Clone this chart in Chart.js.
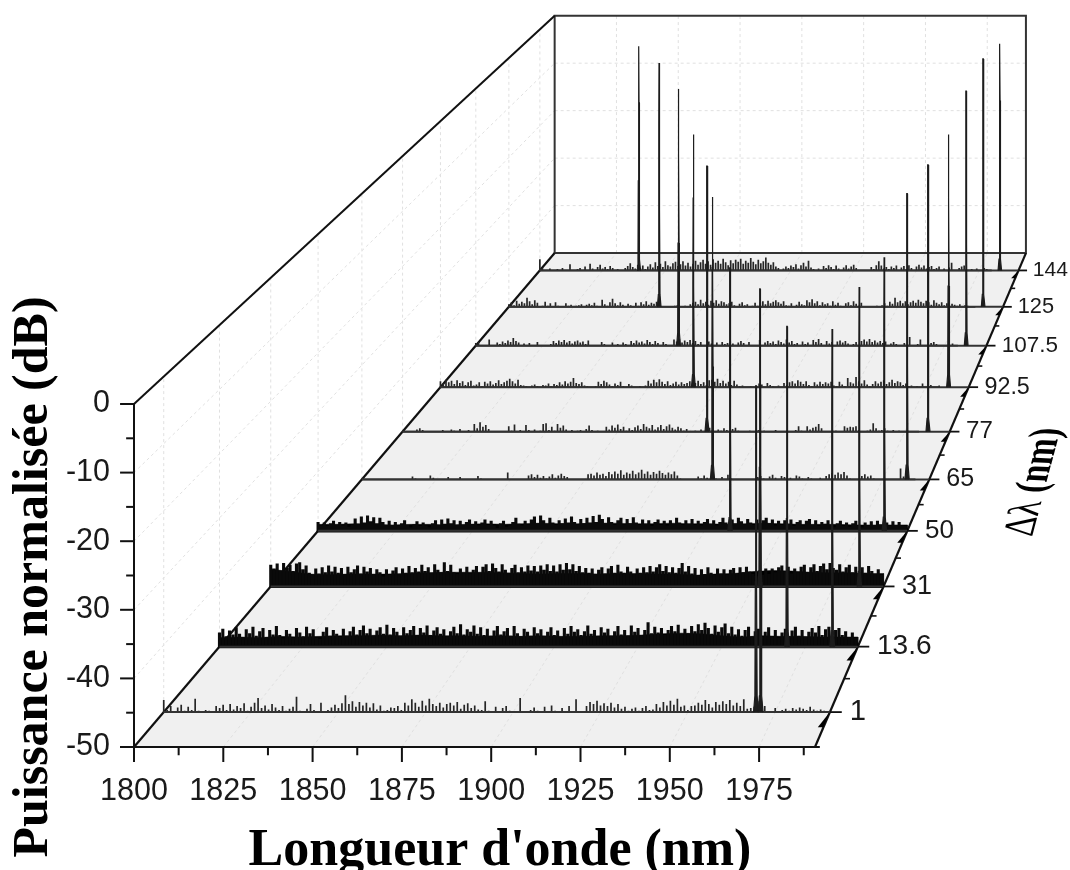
<!DOCTYPE html>
<html lang="fr">
<head>
<meta charset="utf-8">
<title>Puissance normalisée</title>
<script src="https://cdn.jsdelivr.net/npm/chart.js"></script>
<style>
  html, body { margin: 0; padding: 0; background: #fff; }
  canvas { display: block; }
</style>
</head>
<body>
<canvas id="chart" width="1070" height="870"></canvas>
<script>
// Valeurs
const deltaLabels = ['1', '13.6', '31', '50', '65', '77', '92.5', '107.5', '125', '144'];
const leftPeaks = [1969.5, 1969.5, 1952.2, 1933.3, 1917.8, 1906.1, 1891.3, 1875.7, 1858, 1839.4];
const rightPeaks = [1970.8, 1983, 1983.1, 1983.2, 1983.2, 1983.1, 1983.4, 1983.1, 1983, 1983.2];
const leftPeakTops = [-1.4, -0.2, -1.8, -5.7, -0.6, -1.8, -2.5, -0.1, -1, -3.5];
const rightPeakTops = [-1.4, -0.6, -1.5, -3.9, 0, -1.6, -2.5, -0.5, -0.2, -3];

const xTicks = [1800, 1825, 1850, 1875, 1900, 1925, 1950, 1975];
const xMinorTicks = [1812.5, 1837.5, 1862.5, 1887.5, 1912.5, 1937.5, 1962.5, 1987.5];
const yTicks = [-50, -40, -30, -20, -10, 0];
const yMinorTicks = [-45, -35, -25, -15, -5];

// Bruit au-dessus du plancher (dB), un point par nm à partir de 1800 nm
const noise1 = [
  1.8,0.3,0.9,0,0.7,1.1,0.2,0.8,0.3,2.0, 0.2,0,0.3,0.2,0,0.9,0.6,1.1,0.3,1.2,
  0.4,0.9,0.6,1.3,0.2,0.8,1.4,2.1,0.6,1.0, 0.4,1.2,0.7,0.3,0.9,0.2,0.5,0.8,2.3,0.2,
  0,0.5,1.2,0.3,0,1.4,0,0.3,0.7,1.1, 0.6,1.3,2.5,1.2,1.6,0.8,1.5,1.0,1.4,0.7,
  1.3,0.4,1.0,0.2,0.3,0.7,0.6,0.9,0.3,1.4, 1.0,1.9,1.4,0.8,1.7,1.0,2.0,1.2,0.9,1.4,
  0.7,1.2,1.4,1.0,1.5,0.5,1.1,1.3,0.6,1.0, 0.4,0.3,1.6,0.2,0.1,0.8,0,0.6,0.9,0.2,
  0,0,2.1,0.1,0,0.3,0.7,0.2,0,0.8, 0.1,1.0,0.2,0,0.6,0.1,0.9,0,1.9,0.1,
  0,0.9,1.5,1.2,1.7,1.0,1.3,0.9,1.4,0.7, 1.2,0.5,0.8,0.2,0.5,0.7,0.2,0.6,0.9,0.3,
  0.4,1.2,0.7,1.5,1.0,1.7,1.1,2.0,0.8,1.0, 0.3,0.9,1.0,1.4,1.1,1.8,1.2,0.7,1.5,1.1,
  1.6,1.2,1.8,1.0,1.4,0.9,1.9,0.5,0.6,0.8, 1.6,1.6,0.9,0.1,0,0.6,0.1,0.3,0.5,0.2,
  0.6,0.4,0.7,0.5,0.3,0.8,0.4,0.2,0.4,0.2, 0.1
];
const noise65 = [
  0,0,0,0,0,0,0,0,0,0, 0,0,0,0,0,0,0,0.5,0.2,0,
  0,0,0,0.7,0.3,0,0,0,0,0.4, 0,0,0,0.4,0,0,0,0,0,0.6,
  0.2,0,0,0,0,0,0,0,0,1.2, 0,0,0,0,0,0,0.7,0.9,0.4,0.8,
  0.3,0.6,0.2,0.5,0.9,0.3,0.7,1.0,0.6,0.4, 0,0,0,0,0,0,0.9,1.0,0.7,1.2,
  0.8,1.0,0.6,1.3,0.9,1.4,1.0,1.6,0.8,1.2, 1.0,1.5,0.9,1.2,1.7,1.0,1.4,0.8,1.3,1.0,
  1.5,1.1,0.8,1.2,0.9,1.4,0.7,0.2,0,0, 0.1,0,0,0.5,0.2,0.7,0.3,0,0.6,0.2,
  0.1,0.4,0,0.8,0.2,0,0,0,0,0.1, 0,0,0,0.4,0.6,0.2,0,0.5,0.8,0.3,
  0,0.6,0.4,0.1,0.3,0,0.7,0.5,0.2,0,0.4,0.2,0,0.1, 0.3,0,0.6,0.9,1.1,0.8,
  1.2,0.9,1.3,0.7,0.2,0,0,0,0.6,0.9,0.5,0.7,0.2,0,0,0,0,0,0,0,
  0,1.9,0.5,0,0,0,0
];
const noise77 = [
  0,0,0,0,0,0.4,0.6,0.3,0,0, 0,0,0,0,0.3,0.1,0,0.4,0.2,0,
  0.5,0.1,0,0.3,0.1,1.4,0.6,1.7,0.9,1.2, 0.5,0,0,0,0,0,0,1.0,0.2,1.3,
  0.1,0.3,0,1.2,0.3,0.1,0.4,0,0.2,1.4, 1.5,0.3,0.9,0.2,1.4,0.7,1.1,0.4,0.1,0.3,
  0,0.2,0.3,0,0.5,1.1,0.3,0,0.2,0, 0.1,0.9,0.4,1.1,0.7,1.3,0.5,0.9,0.2,0.6,
  0.3,0.8,1.1,0.5,1.4,0.9,0.6,1.2,0.4,0.8, 1.2,0.5,1.0,1.3,0.7,0.4,0.9,0.6,0.2,0.5,
  0.1,0,0.2,0,0.4,0.1,0.5,0.7,0.3,0.1, 0.4,0.2,0.6,0.3,0.1,0.5,0.7,0.2,0.1,0,
  0,0.2,0.1,0,0.3,0,0.2,0.1,0,0, 0.3,0.1,0,0,0.2,0.1,0,0.3,1.0,0.2,
  0,1.0,0.4,0.7,0.9,1.4,0.6,0.1,0,0, 0,0.2,0,0,1.0,0.7,0.9,0.8,1.0,0.3,
  0.1,0,0.2,0.4,1.5,0.6,0.2,0.3,0.6,0.2, 0.1,0.3,0,0.2,0.1,0,0.2,0,0.1,0,
  0
];
const noise92_5 = [
  1.1,0.7,1.4,0.9,1.2,0.6,1.3,0.8,1.1,0.4, 0.9,1.2,0.3,0.5,0.9,0.2,1.0,0.7,1.1,0.5,
  0.8,1.3,0.6,0.9,1.2,1.6,1.1,0.7,1.4,0.4, 0.3,0.2,0.1,0.3,0.5,0.2,0.1,0.4,0.3,0.7,
  0.2,0.6,0.4,0.9,0.5,1.1,0.7,1.0,1.7,0.8, 0.6,0.9,0.3,0.2,0.1,0,0.2,1.0,0.6,1.2,
  0.9,0.5,0.2,0.7,0.4,1.0,0.2,0.1,0.6,0.3, 0.1,0,0.2,0,0.3,1.2,0.7,1.4,0.9,1.5,
  1.0,0.6,1.1,0.4,0.7,1.0,0.5,0.9,0.6,0.8, 1.1,0.5,0.8,1.2,0.6,0.9,0.4,1.3,1.4,1.0,
  1.6,0.8,1.2,0.7,1.0,0.4,1.2,0.5,0.2,0.3, 0,0.1,0.2,0,0.3,0.7,0.5,0.1,0.8,0.4,
  0.2,0,0.3,0.1,0.8,0.4,0.9,1.1,0.7,1.3, 1.0,0.6,1.1,0.4,0.2,0.9,0.5,1.0,0.6,0.9,
  0.7,1.0,0.3,0.2,1.0,0.5,0.2,1.7,0.9,0.7, 1.9,1.1,0.7,1.3,0.5,0.2,0.6,1.1,0.7,1.0,
  1.3,0.6,0.9,1.4,0.8,1.1,0.9,0.4,0.7,0.2, 0.3,0.1,0.2,0,0.7,0.1,0,0.4,0,0.1,
  0.3
];
const noise107_5 = [
  0.5,0.7,0.1,0,0,1.2,0.2,0.1,0.6,0.3, 0.8,0.5,1.0,0.7,1.5,0.9,0.6,0.1,0.4,0,
  0.5,0.1,0.2,0.7,0.1,0,0,0.1,0.3,0.9, 0.5,1.0,0.7,1.1,0.6,0.9,0.4,0.8,1.0,0.6,
  0.8,0.3,1.0,0.2,0,0,0.1,0.7,0.3,0,0.2,0.6,0,0.3,0.1,0.6,0.3,0.1,0.9,0.5,
  1.0,0.6,0.8,0.4,1.1,0.7,0.3,0.9,0.5,0.1, 0.7,0.3,0,0.2,1.2,0.8,1.2,0.6,1.0,0.7,
  1.1,0.5,0.9,0.3,0.7,0.2,0.1,0.8,0.4,0,0.6,0.2,0.7,0.3,0.5,0.8,0.4,0.1,0.6,0.9,
  0.5,0.2,0.7,0.1,0,0.2,1.1,0,0.6,0.9, 0.5,0.8,0.3,1.0,0.7,0.4,1.2,0.6,0.9,0.3,
  0.5,0.1,0.8,0.3,0.6,0.2,1.1,0.7,1.3,0.5, 0.2,0.9,0.4,0.7,0.2,0.8,1.0,0.6,0.9,0.4,
  0.1,0.3,0.7,0.2,0.9,1.2,0.8,1.3,0.7,1.0, 0.6,0.9,0.5,0.8,0.2,0.4,0.7,0.3,0.1,0.2,
  0.5,0.1,1.7,0.2,0,0.3,1.2,0.1,0,0.2, 0.5,0.7,0.3,0,0,0,0,0.2,0.4,0.1,
  0
];
const noise125 = [
  0.5,0.9,0.3,1.2,0.6,1.0,0.7,1.8,1.1,0.5, 1.3,0.8,0.1,0.2,1.0,0.2,0.7,0.1,0.9,0.2,
  0,0.1,0.7,0.2,0.4,0,0.2,0.3,0.5,0.1, 0.4,0.6,0.3,0.8,0.2,0.1,1.4,0.5,0.2,0.9,
  1.6,0.7,0.3,0.9,0.4,0.1,0.6,0.3,0.1,0.8, 0.2,0.9,0.5,1.1,0.4,0.8,0.6,1.0,0.3,0,
  0,0,0.1,0,0.2,0.3,0,0.1,0.2,0, 0.5,0.8,1.0,0.5,1.4,0.7,1.0,0.4,1.2,0.8,
  1.3,0.6,1.1,0.9,0.5,0.7,1.0,0.3,0.1,0.6, 0.9,0.3,0.5,0.1,0.2,0.8,0.2,0.9,1.1,0.5,
  1.2,0.7,1.0,1.3,0.9,0.6,1.1,0.3,0.2,0.7, 0.1,0.4,1.0,0.5,0.3,1.3,0.9,1.5,0.7,1.1,
  0.3,0.9,0.5,0.7,0.2,1.1,0.4,0.8,0.2,0.1, 0.7,0.9,0.3,1.1,0.6,0.2,0.8,0.1,0,0.1,
  0,0,0.2,0,0.3,0.7,0.2,1.0,0.6,1.8, 0.9,1.2,0.7,1.1,0.5,0.9,1.2,0.8,1.4,1.0,
  0.7,1.2,0.9,0.4,1.3,0.8,0.5,0.9,0.3,0.7, 0.2,0.6,0.4,0.2,0.5,0.1,0.3,0.2,0,0.1,
  0
];
const noise144 = [
  2.3,0.5,0.2,0,0.4,0.1,0,0.3,0.1,0.5, 0,0,1.3,0.1,0,0.3,0.5,0,0.8,0.2,
  1.4,0.4,0.1,0.7,1.2,0.4,0.7,0.3,0.9,0.5, 0.2,0.3,0.1,0,0.5,0.9,1.5,0.7,0.4,1.2,
  0.5,1.0,0.3,0.8,1.3,0.6,1.7,0.9,1.4,0.7, 1.9,1.1,0.8,1.5,1.8,0.9,1.3,1.9,1.0,1.6,
  0.8,1.4,2.0,1.2,1.7,2.2,1.4,1.9,1.2,2.3, 1.6,2.0,1.4,2.4,1.7,1.1,2.1,1.5,2.2,1.8,
  2.4,1.4,2.0,1.6,2.6,1.8,1.3,2.2,1.5,1.9, 2.7,1.6,1.2,1.7,0.8,0.5,0.2,0.4,0.8,0.5,
  1.0,0.7,1.3,0.4,1.1,1.6,0.8,2.0,0.6,0.3, 0.2,0.4,0.2,0.9,0.5,1.1,0.7,0.3,1.0,0.4,
  0.1,0.6,1.1,0.4,0.8,1.2,0.5,0.2,0.1,0, 0.2,0,0.7,0.3,1.1,1.9,1.0,0.4,0.7,0.3,
  0.8,0.5,1.0,0.2,0.6,0.9,0.3,1.1,0.5,0.2, 0.8,1.2,0.6,1.0,0.4,0.7,0.9,0.3,0.5,0.8,
  0.2,0.4,0.1,0.6,1.6,0.2,0.1,0.5,0.8,1.0, 0.2,0,0.3,0,0.4,0.1,0.2,0.5,0.3,0,
  0
];

// Rangées denses : même échantillonnage, plus une bande pleine tous les 6 nm
const noise13_6 = [
  2.2,2.8,1.6,2.5,1.9,3.0,2.0,1.5,2.7,2.1, 3.1,1.7,2.4,2.9,1.5,2.6,1.9,3.2,1.8,1.3,
  2.6,2.0,1.4,2.9,2.2,1.6,3.1,2.1,2.7,1.4, 1.2,2.3,3.0,1.7,2.6,2.0,1.5,2.8,1.7,2.4,
  3.1,1.9,2.6,3.3,2.1,2.8,1.7,2.5,3.0,2.0, 3.4,1.9,2.9,2.3,1.7,3.0,2.1,2.6,3.2,1.8,
  2.9,2.2,3.3,1.8,2.5,3.0,2.0,2.7,1.6,2.4, 3.1,2.1,3.5,1.9,2.7,2.3,3.3,2.0,3.0,1.8,
  2.8,1.7,2.5,3.2,1.9,2.4,2.9,1.7,3.2,2.1, 1.6,2.8,2.3,1.7,3.0,2.1,2.7,1.6,2.3,3.0,
  1.8,2.5,1.5,2.9,2.0,3.2,2.3,2.7,1.8,2.4, 3.3,2.0,2.6,1.6,3.0,2.2,2.8,1.7,2.4,3.2,
  1.9,2.6,1.7,3.3,2.3,2.9,1.8,2.6,3.8,2.1, 3.1,2.2,2.9,1.8,2.6,3.2,2.4,3.4,2.0,2.8,
  2.1,3.2,2.4,3.5,2.6,3.7,2.9,2.0,3.3,2.3, 3.0,3.6,2.1,3.1,1.9,2.7,1.7,2.6,3.1,1.6,
  2.4,2.8,1.5,2.3,3.0,1.6,2.6,1.4,2.2,2.8, 1.6,2.5,3.1,1.7,2.6,1.5,2.3,2.9,2.2,3.2,
  1.8,2.7,3.1,1.7,2.6,2.9,1.8,2.4,1.5,2.2, 1.4
];
const band13_6 = [1.4,1.5,1.4,1.6,1.5,1.6,1.7,1.7,1.8,1.7,1.8,1.7,1.7,1.6,1.7,1.6,1.7,1.6,1.6,1.7,1.7,1.8,2.0,2.1,2.0,1.7,1.5,1.7,1.6,1.6,1.5,1.5];
const noise31 = [
  3.5,2.9,3.7,2.6,3.8,3.0,3.5,2.5,3.7,3.9, 2.8,3.4,2.2,1.9,2.9,2.1,3.1,2.3,3.4,2.4,
  3.2,2.2,3.0,2.0,3.2,2.3,2.8,3.4,2.1,3.2, 2.4,3.0,2.0,2.8,2.3,1.6,2.8,1.9,2.6,3.1,
  2.0,2.9,2.2,3.3,2.3,3.0,2.4,3.5,2.5,3.1, 2.2,3.6,2.7,2.3,3.9,2.5,3.5,2.3,2.0,2.9,
  2.2,3.2,2.1,2.7,3.3,2.2,3.2,3.6,2.5,3.7, 3.0,2.4,3.6,2.7,2.2,3.0,3.5,2.3,3.1,2.4,
  3.4,2.6,3.3,2.4,3.4,2.7,3.6,2.5,3.4,2.4, 3.6,2.7,3.8,2.8,3.6,2.5,3.3,2.3,3.0,2.2,
  2.9,2.0,2.7,3.1,2.1,2.9,3.3,2.2,3.5,2.4, 2.2,3.2,2.4,2.0,2.9,2.2,3.1,2.3,3.3,2.4,
  3.1,3.6,2.5,3.3,2.3,3.1,2.2,3.0,3.8,2.4, 3.3,2.1,3.0,1.8,2.8,2.0,3.1,2.2,1.9,2.9,
  2.1,2.8,1.9,2.7,3.0,2.1,3.1,2.3,3.2,2.4, 2.0,1.7,2.6,1.9,2.9,2.0,2.9,2.3,3.1,3.4,
  2.4,3.2,2.1,2.9,2.3,3.2,3.5,2.3,3.1,3.6, 2.5,3.3,3.7,2.8,3.8,3.0,2.7,3.6,2.4,3.1,
  3.5,2.3,3.2,2.1,3.1,2.2,3.3,2.5,2.0,2.8, 1.9
];
const band31 = [2.8,2.4,2.0,1.9,2.0,2.0,2.0,2.1,2.2,2.3,2.3,2.3,2.2,2.1,2.0,2.1,2.1,2.0,2.1,2.1,2.0,2.0,1.8,2.0,2.1,2.4,2.6,2.5,2.3,2.2,2.2,2.1];
const noise50 = [
  1.5,0.9,1.4,0.8,1.3,1.7,1.0,1.5,0.9,1.4, 0.7,1.1,2.1,1.2,2.4,1.4,2.6,1.6,2.3,1.3,
  2.2,1.5,1.0,1.7,1.0,1.5,0.9,1.3,1.8,1.0, 0.6,1.1,1.6,0.8,1.4,0.9,0.6,1.3,1.8,1.0,
  1.9,1.2,2.1,1.3,1.8,1.0,1.7,1.0,1.5,1.9, 1.1,1.6,0.9,1.4,1.9,1.0,1.7,0.9,0.5,1.3,
  1.7,0.7,0.9,1.5,2.2,1.2,0.9,1.7,1.1,1.9, 2.4,1.3,2.6,1.8,1.2,2.2,1.4,1.0,1.8,1.3,
  2.1,1.4,2.4,1.5,1.1,2.0,1.3,2.2,1.4,2.5, 1.5,2.7,2.0,1.3,2.3,1.5,1.0,1.8,2.2,1.1,
  2.0,1.3,2.3,1.4,1.0,1.9,1.2,1.8,0.8,1.5, 1.9,1.0,1.7,0.9,1.8,1.2,2.2,1.4,1.0,1.8,
  1.2,2.0,1.0,1.7,0.9,1.5,2.0,1.2,1.8,0.9, 1.5,2.2,1.4,1.0,1.9,1.3,2.2,1.6,1.1,2.0,
  1.4,1.0,1.9,1.2,1.8,2.2,1.3,1.9,0.9,1.7, 1.0,1.8,1.2,1.9,0.8,1.5,1.8,0.9,1.7,2.0,
  1.0,1.8,0.8,1.5,1.2,1.8,1.0,0.6,1.3,1.7, 0.8,1.4,0.7,1.3,1.7,0.8,0.6,1.4,0.9,1.6,
  1.0,1.7,1.1,0.7,1.4,0.9,1.6,1.0,1.5,0.9, 0.8
];
const band50 = [1.1,1.1,1.2,1.1,1.0,1.1,1.1,1.0,1.1,1.2,1.1,1.2,1.3,1.2,1.2,1.3,1.3,1.2,1.2,1.3,1.2,1.2,1.1,1.2,1.3,1.2,1.1,1.1,1.1,1.0,1.0,1.0];

const rowNoise = [noise1, noise13_6, noise31, noise50, noise65, noise77, noise92_5, noise107_5, noise125, noise144];
const rowBands = [null, band13_6, band31, band50, null, null, null, null, null, null];

// Perspective : les plans reculent vers un point de fuite (unités lambda / dB)
const PX_PER_NM = 3.572;
const PX_PER_DB = 6.86;
const LAMBDA_MIN = 1800;
const LAMBDA_MAX = 1990.65;
const DB_MIN = -50;
const DB_MAX = 0;
const VANISH_LAMBDA = 2182.4;
const VANISH_DB = 183.8;
const DEPTH_K = 0.445;

function depthScale(t) {
  return 1 / (1 + DEPTH_K * t);
}

function project(lambda, dB, t) {
  const s = depthScale(t);
  return { x: VANISH_LAMBDA + (lambda - VANISH_LAMBDA) * s, y: VANISH_DB + (dB - VANISH_DB) * s };
}

function rowDepth(i) {
  return (i + 0.5) / deltaLabels.length;
}

const layers = [];

function addLine(points, color, width, dash) {
  layers.push({
    data: points, showLine: true, pointRadius: 0, borderColor: color, borderWidth: width,
    borderDash: dash || [], tension: 0, fill: false, borderJoinStyle: 'miter'
  });
}

function addShape(points, color, borderWidth) {
  layers.push({
    data: points, showLine: true, pointRadius: 0, borderColor: color, borderWidth: borderWidth || 0,
    backgroundColor: color, tension: 0, fill: 'shape'
  });
}

// Plancher gris
addShape([
  project(LAMBDA_MIN, DB_MIN, 0), project(LAMBDA_MAX, DB_MIN, 0),
  project(LAMBDA_MAX, DB_MIN, 1), project(LAMBDA_MIN, DB_MIN, 1), project(LAMBDA_MIN, DB_MIN, 0)
], '#f0f0f0');

// Grille pointillée
const GRID = '#e0e0e0';
const GRID_DASH = [3, 3];
xTicks.slice(1).forEach(v => {
  addLine([project(v, DB_MIN, 0), project(v, DB_MIN, 1)], GRID, 1, GRID_DASH);
  addLine([project(v, DB_MIN, 1), project(v, DB_MAX, 1)], GRID, 1, GRID_DASH);
});
yTicks.slice(1, -1).forEach(v => {
  addLine([project(LAMBDA_MIN, v, 0), project(LAMBDA_MIN, v, 1)], GRID, 1, GRID_DASH);
  addLine([project(LAMBDA_MIN, v, 1), project(LAMBDA_MAX, v, 1)], GRID, 1, GRID_DASH);
});
deltaLabels.forEach((label, i) => {
  addLine([project(LAMBDA_MIN, DB_MIN, rowDepth(i)), project(LAMBDA_MIN, DB_MAX, rowDepth(i))], GRID, 1, GRID_DASH);
});

// Cadre du fond et arêtes
const FRAME = '#333333';
addLine([project(LAMBDA_MIN, DB_MIN, 1), project(LAMBDA_MIN, DB_MAX, 1), project(LAMBDA_MAX, DB_MAX, 1), project(LAMBDA_MAX, DB_MIN, 1), project(LAMBDA_MIN, DB_MIN, 1)], FRAME, 2);
addLine([project(LAMBDA_MIN, DB_MAX, 0), project(LAMBDA_MIN, DB_MAX, 1)], '#111111', 2);
addLine([project(LAMBDA_MIN, DB_MIN, 0), project(LAMBDA_MIN, DB_MIN, 1)], '#111111', 2.2);
addLine([project(LAMBDA_MAX, DB_MIN, 0), project(LAMBDA_MAX, DB_MIN, 1)], '#111111', 2.2);

// Profil d'un pic : [décalage nm à la base, part de la hauteur]
function peakShape(lambda, top, t) {
  const lift = top - DB_MIN;
  const profile = [[0.7, 0], [0.32, 0.05], [0.2, 0.4], [0.1, 0.75], [0.07, 1]];
  const pts = [];
  profile.forEach(p => pts.push(project(lambda - p[0], DB_MIN + lift * p[1], t)));
  profile.slice().reverse().forEach(p => pts.push(project(lambda + p[0], DB_MIN + lift * p[1], t)));
  return pts;
}

// Rangées, du fond vers l'avant
for (let i = deltaLabels.length - 1; i >= 0; i--) {
  const t = rowDepth(i);

  if (rowBands[i]) {
    const band = rowBands[i].map((h, k) => project(LAMBDA_MIN + k * 6, DB_MIN + h, t));
    band.unshift(project(LAMBDA_MIN, DB_MIN, t));
    band.push(project(LAMBDA_MAX, DB_MIN + rowBands[i][rowBands[i].length - 1], t));
    band.push(project(LAMBDA_MAX, DB_MIN, t));
    band.push(project(LAMBDA_MIN, DB_MIN, t));
    addShape(band, '#000000', 0.5);
  }

  const stems = [];
  rowNoise[i].forEach((h, k) => {
    const lambda = Math.min(LAMBDA_MIN + k, LAMBDA_MAX);
    stems.push(project(lambda, DB_MIN, t), project(lambda, DB_MIN + h, t), project(lambda, DB_MIN, t));
  });
  addLine(stems, rowBands[i] ? '#0a0a0a' : '#262626', rowBands[i] ? 3.1 : 1.7);
  addLine([project(LAMBDA_MIN, DB_MIN, t), project(LAMBDA_MAX, DB_MIN, t)], '#333333', 2);

  addShape(peakShape(leftPeaks[i], leftPeakTops[i], t), '#1c1c1c', 1.2);
  addShape(peakShape(rightPeaks[i], rightPeakTops[i], t), '#1c1c1c', 1.2);
}

// Axes : lignes et graduations
const AXIS = '#111111';
const X_MAJOR = 2.2, X_MINOR = 1.2, Y_MAJOR = 3.9, Y_MINOR = 2.2;
addLine([{ x: LAMBDA_MIN, y: DB_MAX }, { x: LAMBDA_MIN, y: DB_MIN }], AXIS, 2);
addLine([{ x: LAMBDA_MIN - Y_MAJOR, y: DB_MIN }, { x: 1992, y: DB_MIN }], AXIS, 2);
xTicks.forEach(v => addLine([{ x: v, y: DB_MIN }, { x: v, y: DB_MIN - X_MAJOR }], AXIS, 2));
xMinorTicks.forEach(v => addLine([{ x: v, y: DB_MIN }, { x: v, y: DB_MIN - X_MINOR }], AXIS, 2));
yTicks.forEach(v => addLine([{ x: LAMBDA_MIN, y: v }, { x: LAMBDA_MIN - Y_MAJOR, y: v }], AXIS, 2));
yMinorTicks.forEach(v => addLine([{ x: LAMBDA_MIN, y: v }, { x: LAMBDA_MIN - Y_MINOR, y: v }], AXIS, 2));

deltaLabels.forEach((label, i) => {
  const t = rowDepth(i);
  addLine([project(LAMBDA_MAX, DB_MIN, t), project(LAMBDA_MAX + 3.4, DB_MIN, t)], AXIS, 1.8);
  addShape([
    project(LAMBDA_MAX, DB_MIN, t), project(LAMBDA_MAX, DB_MIN, t - 0.022),
    project(LAMBDA_MAX - 1.6, DB_MIN, t - 0.022), project(LAMBDA_MAX, DB_MIN, t)
  ], '#000000');
  if (i > 0) {
    const tm = i / deltaLabels.length;
    addLine([project(LAMBDA_MAX, DB_MIN, tm), project(LAMBDA_MAX + 1.7, DB_MIN, tm)], AXIS, 1.6);
  }
});

// Textes de l'axe oblique et titres
const textPlugin = {
  id: 'textes',
  afterDraw(chart) {
    const { ctx, scales } = chart;
    ctx.save();
    ctx.fillStyle = '#1a1a1a';
    ctx.textAlign = 'left';
    ctx.textBaseline = 'middle';
    deltaLabels.forEach((label, i) => {
      const t = rowDepth(i);
      const p = project(LAMBDA_MAX + 5.7, DB_MIN, t);
      ctx.font = (30 * depthScale(t)).toFixed(1) + 'px "Liberation Sans"';
      ctx.fillText(label, scales.x.getPixelForValue(p.x), scales.y.getPixelForValue(p.y));
    });

    ctx.fillStyle = '#000';
    ctx.textBaseline = 'alphabetic';
    ctx.textAlign = 'center';
    ctx.font = 'bold 52px "Liberation Serif"';
    ctx.fillText("Longueur d'onde (nm)", 500, 865);

    ctx.save();
    ctx.translate(47, 577);
    ctx.rotate(-Math.PI / 2);
    ctx.font = 'bold 50px "Liberation Serif"';
    ctx.fillText('Puissance normalisée (dB)', 0, 0);
    ctx.restore();

    // Texte cisaillé : ligne de base oblique, jambages presque horizontaux
    ctx.save();
    ctx.transform(0.19, -0.72, 1, 0.04, 1032, 537);
    ctx.textAlign = 'left';
    ctx.font = '44px "Liberation Serif"';
    ctx.fillText('Δλ ', 0, 0);
    const w = ctx.measureText('Δλ ').width;
    ctx.font = 'bold 44px "Liberation Serif"';
    ctx.fillText('(nm)', w, 0);
    ctx.restore();
    ctx.restore();
  }
};

new Chart(document.getElementById('chart'), {
  type: 'scatter',
  data: { datasets: layers.slice().reverse() },
  plugins: [textPlugin],
  options: {
    responsive: false,
    animation: false,
    events: [],
    layout: { padding: 0 },
    plugins: { legend: { display: false }, tooltip: { enabled: false } },
    scales: {
      x: {
        type: 'linear',
        min: LAMBDA_MIN - 134 / PX_PER_NM,
        max: LAMBDA_MIN + (1070 - 134) / PX_PER_NM,
        position: { y: DB_MIN },
        grid: { display: false, drawTicks: false },
        border: { display: false },
        afterBuildTicks: scale => { scale.ticks = xTicks.map(v => ({ value: v })); },
        afterFit: scale => { scale.height = 0; scale.paddingLeft = 0; scale.paddingRight = 0; },
        ticks: {
          autoSkip: false, maxRotation: 0, minRotation: 0, padding: 26, color: '#1a1a1a',
          font: { family: '"Liberation Sans"', size: 30.5 },
          callback: v => String(v)
        }
      },
      y: {
        type: 'linear',
        min: DB_MIN - (870 - 747) / PX_PER_DB,
        max: 404 / PX_PER_DB,
        position: { x: LAMBDA_MIN - 24 / PX_PER_NM },
        grid: { display: false, drawTicks: false },
        border: { display: false },
        afterBuildTicks: scale => { scale.ticks = yTicks.map(v => ({ value: v })); },
        afterFit: scale => { scale.width = 0; scale.paddingTop = 0; scale.paddingBottom = 0; },
        ticks: {
          autoSkip: false, maxRotation: 0, minRotation: 0, padding: 0, color: '#1a1a1a',
          font: { family: '"Liberation Sans"', size: 30.5 },
          callback: v => String(v)
        }
      }
    }
  }
});
</script>
</body>
</html>
